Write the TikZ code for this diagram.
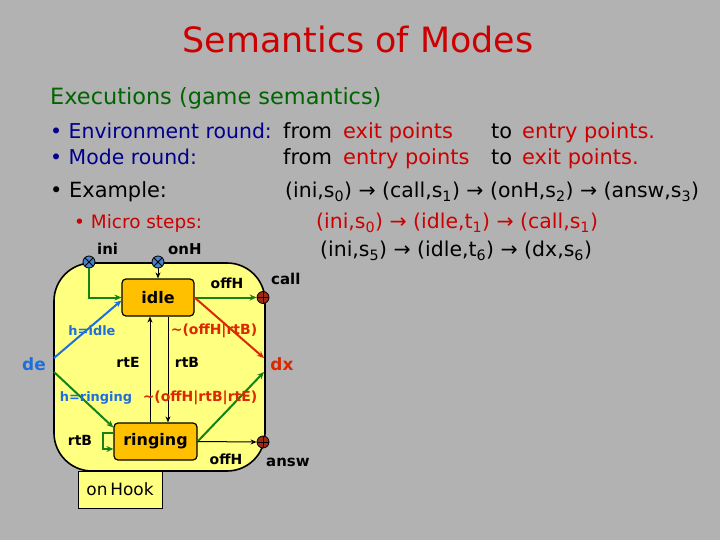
\documentclass[tikz,border=0pt]{standalone}
\usepackage{fontspec}
\setmainfont{DejaVu Sans}
\usetikzlibrary{arrows.meta}
\definecolor{bg}{RGB}{178,178,178}
\definecolor{titlered}{RGB}{204,0,0}
\definecolor{navy}{RGB}{0,0,140}
\definecolor{dkgreen}{RGB}{0,100,0}
\definecolor{modeyellow}{RGB}{255,255,128}
\definecolor{stateorange}{RGB}{255,192,0}
\definecolor{arrgreen}{RGB}{20,130,20}
\definecolor{arrred}{RGB}{220,40,0}
\definecolor{lblblue}{RGB}{30,110,220}
\definecolor{entryblue}{RGB}{70,130,200}
\definecolor{exitred}{RGB}{160,40,20}
\newcommand\fsz[1]{\fontsize{#1}{#1}\selectfont}
\begin{document}
\begin{tikzpicture}[x=1bp,y=-1bp,
  txt/.style={inner sep=0, anchor=base west},
  lab/.style={inner sep=0, font=\fsz{14}\bfseries},
  statebox/.style={draw=black, line width=1.2bp, fill=stateorange, rounded corners=4bp,
    minimum height=37bp, inner sep=0, font=\fsz{16}\bfseries},
  modebox/.style={draw=black, line width=1.6bp, fill=modeyellow, rounded corners=38bp,
    minimum width=211bp, minimum height=208bp, inner sep=0},
  entryp/.style={circle, draw=black, line width=0.8bp, fill=entryblue, minimum size=12bp, inner sep=0,
    path picture={\draw[line width=0.9bp] (path picture bounding box.north west)--(path picture bounding box.south east)
      (path picture bounding box.north east)--(path picture bounding box.south west);}},
  exitp/.style={circle, draw=black, line width=0.8bp, fill=exitred, minimum size=12bp, inner sep=0,
    path picture={\draw[line width=0.9bp] (path picture bounding box.north)--(path picture bounding box.south)
      (path picture bounding box.west)--(path picture bounding box.east);}},
  garrow/.style={draw=arrgreen, line width=2bp, -{Stealth[length=7bp,width=6bp]}},
  rarrow/.style={draw=arrred, line width=2bp, -{Stealth[length=7bp,width=6bp]}},
  barrow/.style={draw=black, line width=1bp, -{Stealth[length=6bp,width=5bp]}},
  blarrow/.style={draw=lblblue, line width=2bp, -{Stealth[length=7bp,width=6bp]}}
]
\useasboundingbox[fill=bg] (0,0) rectangle (720,540);

% title and text
\node[inner sep=0, anchor=base, text=titlered, font=\fsz{35}] (title) at (358,53) {Semantics of Modes};
\node[txt, text=dkgreen, font=\fsz{22.5}] (exec) at (50,105) {Executions (game semantics)};

\node[txt, font=\fsz{20.5}] (b1) at (50,139) {\textcolor{navy}{• Environment round:}};
\node[txt, font=\fsz{21}] (b1f) at (283,139) {from};
\node[txt, font=\fsz{21}, text=titlered] (b1e) at (343,139) {exit points};
\node[txt, font=\fsz{21}] (b1t) at (491,139) {to};
\node[txt, font=\fsz{21}, text=titlered] (b1n) at (522,139) {entry points.};

\node[txt, font=\fsz{20.5}] (b2) at (50,165) {\textcolor{navy}{• Mode round:}};
\node[txt, font=\fsz{21}] (b2f) at (283,165) {from};
\node[txt, font=\fsz{21}, text=titlered] (b2e) at (343,165) {entry points};
\node[txt, font=\fsz{21}] (b2t) at (491,165) {to};
\node[txt, font=\fsz{21}, text=titlered] (b2n) at (522,165) {exit points.};

\node[txt, font=\fsz{21}] (b3) at (50,198) {• Example:};
\node[txt, font=\fsz{20.5}] (b3s) at (285,198) {(ini,s\textsubscript{0}) → (call,s\textsubscript{1}) → (onH,s\textsubscript{2}) → (answ,s\textsubscript{3})};

\node[txt, font=\fsz{18.5}, text=titlered] (b4) at (74,229) {• Micro steps:};
\node[txt, font=\fsz{20.5}, text=titlered] (b4s) at (316,229) {(ini,s\textsubscript{0}) → (idle,t\textsubscript{1}) → (call,s\textsubscript{1})};
\node[txt, font=\fsz{20.5}] (b5s) at (320,257) {(ini,s\textsubscript{5}) → (idle,t\textsubscript{6}) → (dx,s\textsubscript{6})};

% diagram
\node[modebox] (mode) at (159.5,367) {};
\node[draw=black, line width=0.8bp, fill=modeyellow, minimum width=84bp, minimum height=37bp, inner sep=0, font=\fsz{17}] (hook) at (120,489.5) {on\,Hook};
\node[statebox, minimum width=72bp] (idle) at (158,297.5) {idle};
\node[statebox, minimum width=83bp] (ring) at (155.5,441.5) {ringing};

\node[entryp] (ini) at (89,262) {};
\node[entryp] (onH) at (158,262) {};
\node[exitp] (call) at (263,297.5) {};
\node[exitp] (answ) at (263,442) {};

\node[lab, font=\fsz{15}\bfseries, anchor=base west] (inil) at (97,255) {ini};
\node[lab, font=\fsz{15}\bfseries, anchor=base west] (onHl) at (168,255) {onH};
\node[lab, font=\fsz{15}\bfseries, anchor=base west] (calll) at (271,285) {call};
\node[lab, font=\fsz{15}\bfseries, anchor=base west] (answl) at (266,466) {answ};
\node[lab, font=\fsz{17}\bfseries, text=lblblue] (de) at (34,364) {de};
\node[lab, font=\fsz{17}\bfseries, text=arrred] (dx) at (282,364) {dx};

\coordinate (de1) at (54,358);
\coordinate (de2) at (54,372);
\coordinate (dx1) at (264,358);
\coordinate (dx2) at (264,372);
\coordinate (rtEx) at (150,0);
\coordinate (rtBx) at (168,0);

\draw[garrow] (ini.south) |- (idle.west);
\draw[barrow] (onH.south) -- (idle.north);
\draw[garrow] (idle.east) -- (call.west);
\node[lab] (offH1) at (227,283) {offH};
\draw[rarrow] (idle.east) -- (dx1);
\node[lab, text=arrred] (l1) at (214,331) {\textasciitilde(offH|rtB)};
\draw[blarrow] (de1) -- ([yshift=-3bp]idle.west);
\node[lab, text=lblblue, font=\fsz{13}\bfseries] (hidle) at (92,331) {h=idle};
\draw[barrow] (ring.north -| rtEx) -- (idle.south -| rtEx);
\node[lab] (rtE) at (128,362) {rtE};
\draw[barrow] (idle.south -| rtBx) -- (ring.north -| rtBx);
\node[lab] (rtB) at (187,362) {rtB};
\draw[garrow] (de2) -- ([yshift=14bp]ring.west);
\node[lab, text=lblblue, font=\fsz{13}\bfseries] (hring) at (96,398) {h=ringing};
\draw[garrow] (ring.east) -- (dx2);
\node[lab, text=arrred] (l2) at (200,398) {\textasciitilde(offH|rtB|rtE)};
\draw[barrow] (ring.east) -- (answ.west);
\node[lab] (offH2) at (226,459) {offH};
\draw[garrow] ([yshift=8.5bp]ring.west) -- ++(-10,0) |- ([yshift=-7.5bp]ring.west);
\node[lab] (rtB2) at (80,440) {rtB};
\end{tikzpicture}
\end{document}
